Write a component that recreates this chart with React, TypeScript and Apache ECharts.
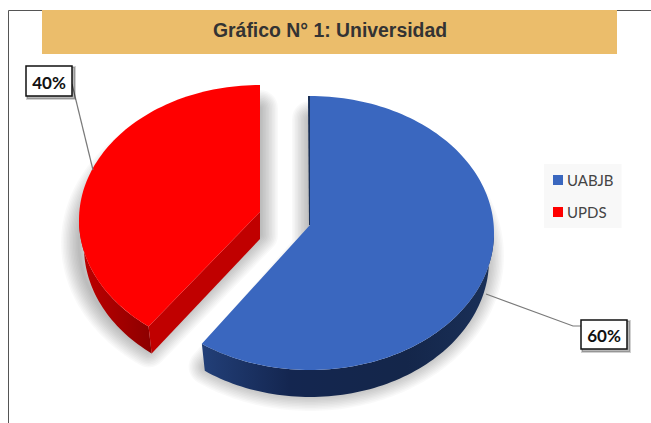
import React, { useEffect, useRef } from "react";
import * as echarts from "echarts";

const titleText = "Gráfico N° 1: Universidad";
const universities = ["UABJB", "UPDS"];
const shares = [60, 40];
const total = shares[0] + shares[1];

const DEPTH = 27;
const BOTTOM_INSET = 5;
const RED_TILT = 2;
const SHADOW_LAYERS = 12;
const SHADOW_DROP = 23;
const rad = (d: number) => (d * Math.PI) / 180;

type Geo = { cx: number; cy: number; apexY: number; rx: number; ry: number; box: number[]; leader: number[][] };

function arc(g: Geo, from: number, to: number, dy = 0, inset = 0) {
  const pts: number[][] = [];
  const n = Math.max(2, Math.ceil(Math.abs(to - from) / 1.5));
  for (let i = 0; i <= n; i++) {
    const t = rad(from + ((to - from) * i) / n);
    pts.push([g.cx + (g.rx - inset) * Math.cos(t), g.cy + g.ry * Math.sin(t) + dy]);
  }
  return pts;
}

function softShadow(points: number[][]) {
  const layers: any[] = [];
  for (let i = SHADOW_LAYERS; i >= 1; i--) {
    layers.push({
      type: "polygon",
      shape: { points },
      style: { fill: "none", stroke: "rgba(0,0,0,0.023)", lineWidth: i * 3, lineJoin: "round" },
    });
  }
  return layers;
}

function labelBox(text: string, box: number[], leader: number[][]) {
  const [x, y, w, h] = box;
  return [
    { type: "polyline", shape: { points: leader }, style: { fill: "none", stroke: "#7a7a7a", lineWidth: 1.2 } },
    { type: "rect", shape: { x: x + 1, y: y + 1, width: w + 2, height: h + 2 }, style: { fill: "rgba(0,0,0,0.28)", stroke: "rgba(0,0,0,0.18)", lineWidth: 2 } },
    { type: "rect", shape: { x, y, width: w, height: h }, style: { fill: "#fff", stroke: "#111", lineWidth: 1.5 } },
    {
      type: "text",
      style: {
        text, x: x + w / 2, y: y + h / 2 + 1, align: "center", verticalAlign: "middle",
        font: "bold 17px Lato", fill: "#111",
      },
    },
  ];
}

function renderBlue(_p: any, api: any) {
  const g: Geo = { cx: 310, cy: 233, apexY: 225, rx: 184, ry: 137, box: [581, 320, 46, 29], leader: [[486, 294], [573, 326], [581, 326]] };
  const sweep = (api.value(0) / total) * 360;
  const start = -90;
  const end = start + sweep;
  const apex = [g.cx, g.apexY];
  const rim = arc(g, start, end);
  const wallTop = arc(g, 0, end);
  const wallBot = arc(g, 0, end, DEPTH, BOTTOM_INSET).reverse();
  const shadowSource = [[apex[0], apex[1] + SHADOW_DROP], ...arc(g, start, end, SHADOW_DROP, 8)];
  return {
    type: "group",
    children: [
      ...softShadow(shadowSource),
      {
        type: "polygon",
        shape: { points: [...wallTop, ...wallBot] },
        style: {
          fill: { type: "linear", x: 0, y: 0, x2: 1, y2: 0, colorStops: [
            { offset: 0, color: "#223f78" }, { offset: 0.3, color: "#142650" }, { offset: 0.7, color: "#14264a" }, { offset: 1, color: "#1a3058" },
          ] },
        },
      },
      { type: "polygon", shape: { points: [[g.cx - 2, g.cy - g.ry], [g.cx, g.cy - g.ry], apex, [g.cx - 1, g.apexY]] }, style: { fill: "#1a3058" } },
      { type: "polygon", shape: { points: [apex, ...rim] }, style: { fill: "#3a67bf" } },
      ...labelBox(`${api.value(0)}%`, g.box, g.leader),
    ],
  };
}

function renderRed(_p: any, api: any) {
  const g: Geo = { cx: 260, cy: 220, apexY: 212, rx: 181, ry: 135, box: [26, 66, 46, 30], leader: [[72, 84], [93, 170]] };
  const sweep = (api.value(0) / total) * 360;
  const end = 270;
  const start = end - sweep + RED_TILT;
  const apex = [g.cx, g.apexY];
  const rim = arc(g, start, end);
  const corner = rim[0];
  const wallBotArc = arc(g, start, 180, DEPTH, BOTTOM_INSET);
  const wallTop = arc(g, start, 180);
  const tip = wallBotArc[0];
  const shadowSource = [[apex[0], apex[1] + SHADOW_DROP], ...arc(g, start, end, SHADOW_DROP)];
  return {
    type: "group",
    children: [
      ...softShadow(shadowSource),
      {
        type: "polygon",
        shape: { points: [...wallTop, ...[...wallBotArc].reverse()] },
        style: {
          fill: { type: "linear", x: 0, y: 0, x2: 1, y2: 0, colorStops: [
            { offset: 0, color: "#c00000" }, { offset: 1, color: "#8c0000" },
          ] },
        },
      },
      { type: "polygon", shape: { points: [apex, [g.cx, g.apexY + DEPTH], tip, corner] }, style: { fill: "#c00000" } },
      { type: "polygon", shape: { points: [apex, ...rim] }, style: { fill: "#ff0000" } },
      ...labelBox(`${api.value(0)}%`, g.box, g.leader),
    ],
  };
}

export default function App() {
  const ref = useRef<HTMLDivElement>(null);
  useEffect(() => {
    const chart = echarts.init(ref.current!, undefined, { renderer: "svg" });
    chart.setOption({
      animation: false,
      backgroundColor: "#fff",
      title: {
        text: titleText,
        left: 330,
        top: 20,
        textAlign: "center",
        padding: 0,
        textStyle: { fontFamily: "Liberation Sans", fontWeight: "bold", fontSize: 19.4, color: "#333" },
      },
      legend: {
        data: universities,
        orient: "vertical",
        left: 544,
        top: 164,
        padding: [7, 8, 7, 9],
        backgroundColor: "#f8f8f8",
        itemWidth: 10,
        itemHeight: 10,
        itemGap: 14,
        icon: "rect",
        textStyle: { fontFamily: "Lato", fontSize: 15, color: "#444", padding: [0, 0, 0, -1], lineHeight: 18 },
      },
      graphic: [
        { type: "rect", shape: { x: 42, y: 10, width: 575, height: 44 }, style: { fill: "#ebbd6b" }, z: 1 },
        { type: "polyline", shape: { points: [[42, 10.5], [8.5, 10.5], [8.5, 423]] }, style: { fill: "none", stroke: "#555", lineWidth: 1 } },
        { type: "line", shape: { x1: 617, y1: 10.5, x2: 651, y2: 10.5 }, style: { stroke: "#555", lineWidth: 1 } },
      ],
      series: [
        { type: "custom", name: universities[1], coordinateSystem: "none", renderItem: renderRed, data: [[shares[1]]], itemStyle: { color: "#ff0000" }, z: 2 },
        { type: "custom", name: universities[0], coordinateSystem: "none", renderItem: renderBlue, data: [[shares[0]]], itemStyle: { color: "#3a67bf" }, z: 3 },
      ],
    });
    return () => chart.dispose();
  }, []);
  return <div ref={ref} style={{ position: "fixed", left: 0, top: 0, width: 651, height: 423 }} />;
}
